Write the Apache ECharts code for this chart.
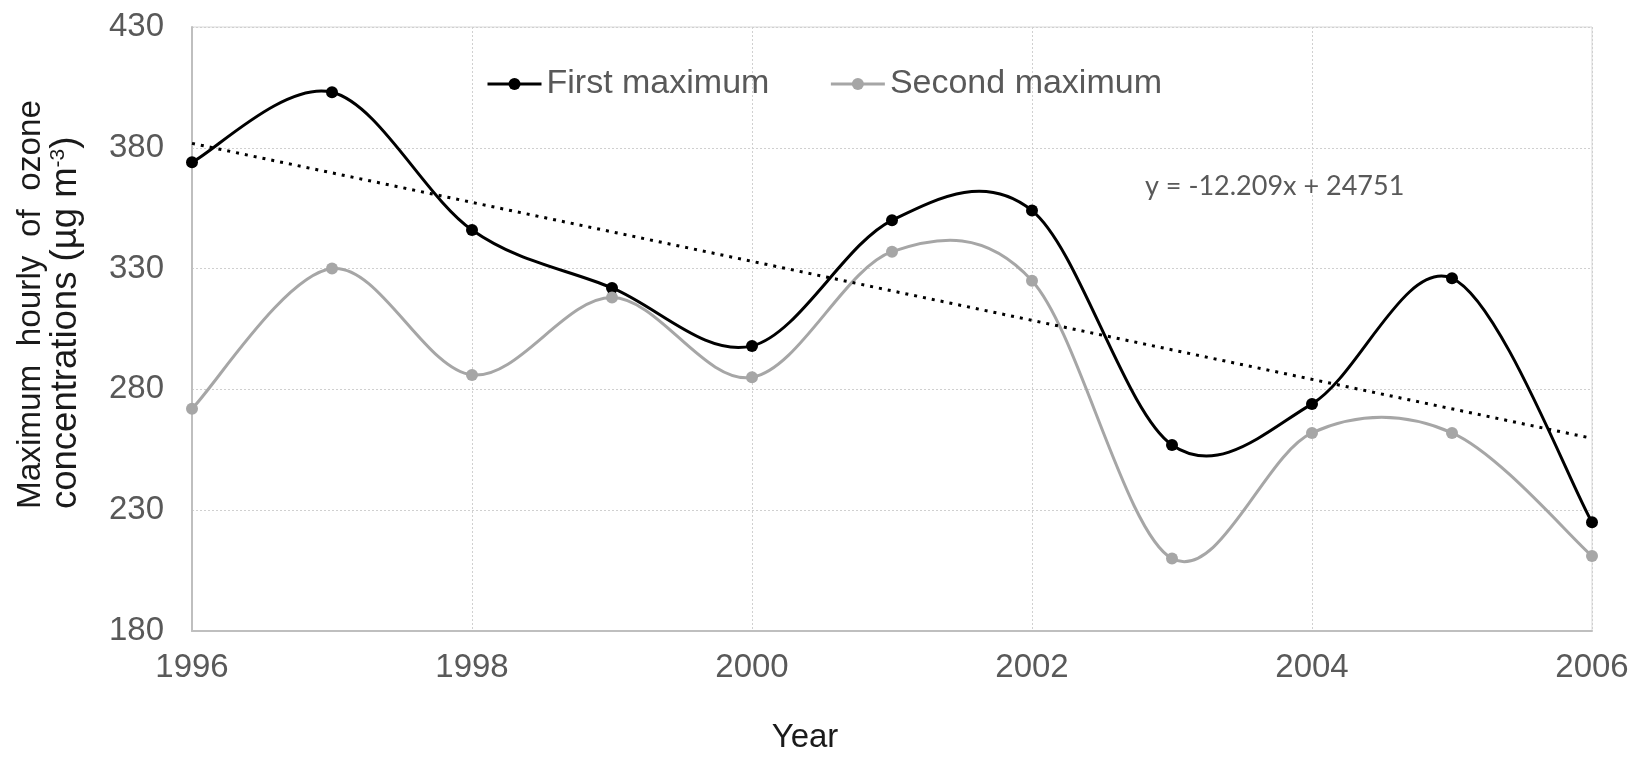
<!DOCTYPE html>
<html>
<head>
<meta charset="utf-8">
<title>Maximum hourly ozone concentrations 1996–2006</title>
<script src="https://cdn.jsdelivr.net/npm/echarts@6/dist/echarts.min.js"></script>
<style>
  html, body { margin: 0; padding: 0; background: #ffffff; }
  #chart { width: 1644px; height: 758px; }
</style>
</head>
<body>
<div id="chart"></div>
<script>
// Yearly maxima of hourly ozone concentration (µg m-3)
const years = [1996, 1997, 1998, 1999, 2000, 2001, 2002, 2003, 2004, 2005, 2006];
const firstMaximum = [374, 403, 346, 322, 298, 350, 354, 257, 274, 326, 225];
const secondMaximum = [272, 330, 286, 318, 285, 337, 325, 210, 262, 262, 211];

// Linear trend of the first maximum, as printed on the chart
const trendSlope = -12.209;
const trendIntercept = 24751;
const trendLabel = 'y = -12.209x + 24751';

// Axis ranges and labels
const xTicks = { min: 1996, max: 2006, step: 2 };
const yTicks = { min: 180, max: 430, step: 50 };
const seriesNames = ['First maximum', 'Second maximum'];
const xTitle = 'Year';
const yTitleLine1 = 'Maximum  hourly  of  ozone';
const yTitleLine2 = ['concentrations (µg m', '-3', ')'];

const toPairs = (vals) => vals.map((v, i) => [years[i], v]);
const trendEnds = [xTicks.min, xTicks.max].map((x) => [x, trendSlope * x + trendIntercept]);

// Smooth curve through the data points (cardinal spline, like a spreadsheet "smoothed line")
function splineRenderer(values, color) {
  return function (params, api) {
    if (params.dataIndex !== 0) return null;
    const pts = years.map((x, i) => api.coord([x, values[i]]));
    const n = pts.length;
    const children = [];
    for (let i = 0; i < n - 1; i++) {
      const p0 = pts[Math.max(i - 1, 0)];
      const p1 = pts[i];
      const p2 = pts[i + 1];
      const p3 = pts[Math.min(i + 2, n - 1)];
      children.push({
        type: 'bezierCurve',
        shape: {
          x1: p1[0], y1: p1[1],
          x2: p2[0], y2: p2[1],
          cpx1: p1[0] + (p2[0] - p0[0]) / 6, cpy1: p1[1] + (p2[1] - p0[1]) / 6,
          cpx2: p2[0] - (p3[0] - p1[0]) / 6, cpy2: p2[1] - (p3[1] - p1[1]) / 6
        },
        style: { stroke: color, lineWidth: 3, fill: null },
        silent: true
      });
    }
    return { type: 'group', children: children };
  };
}

const chart = echarts.init(document.getElementById('chart'), null, { renderer: 'canvas' });

const labelFont = 'Liberation Sans, Arial, sans-serif';

chart.setOption({
  animation: false,
  backgroundColor: '#ffffff',
  grid: {
    left: 192, right: 52, top: 27, bottom: 127,
    show: true, borderColor: '#d9d9d9', borderWidth: 1
  },
  legend: {
    left: 481, top: 62,
    itemWidth: 54, itemHeight: 15, itemGap: 60,
    textStyle: { fontSize: 34, color: '#595959', fontFamily: labelFont },
    data: [
      { name: seriesNames[0], lineStyle: { opacity: 1, width: 3 } },
      { name: seriesNames[1], lineStyle: { opacity: 1, width: 3 } }
    ]
  },
  xAxis: {
    type: 'value',
    min: xTicks.min, max: xTicks.max, interval: xTicks.step,
    axisLine: { show: true, lineStyle: { color: '#bfbfbf', width: 2 } },
    axisTick: { show: false },
    axisLabel: {
      margin: 20, fontSize: 33, color: '#595959', fontFamily: labelFont,
      formatter: (v) => String(v)
    },
    splitLine: { show: true, lineStyle: { color: '#d0d0d0', width: 1, type: [2, 2] } }
  },
  yAxis: {
    type: 'value',
    min: yTicks.min, max: yTicks.max, interval: yTicks.step,
    axisLine: { show: true, lineStyle: { color: '#bfbfbf', width: 2 } },
    axisTick: { show: false },
    axisLabel: {
      margin: 28, fontSize: 33, color: '#595959', fontFamily: labelFont,
      formatter: (v) => String(v)
    },
    splitLine: { show: true, lineStyle: { color: '#d0d0d0', width: 1, type: [2, 2] } }
  },
  series: [
    {
      name: seriesNames[0],
      type: 'line',
      data: toPairs(firstMaximum),
      symbol: 'circle', symbolSize: 12,
      itemStyle: { color: '#000000' },
      lineStyle: { color: '#000000', width: 3, opacity: 0 },
      z: 4
    },
    {
      name: seriesNames[1],
      type: 'line',
      data: toPairs(secondMaximum),
      symbol: 'circle', symbolSize: 12,
      itemStyle: { color: '#a6a6a6' },
      lineStyle: { color: '#a6a6a6', width: 3, opacity: 0 },
      z: 4
    },
    {
      name: seriesNames[0],
      type: 'custom',
      data: toPairs(firstMaximum),
      encode: { x: 0, y: 1 },
      renderItem: splineRenderer(firstMaximum, '#000000'),
      silent: true,
      z: 3
    },
    {
      name: seriesNames[1],
      type: 'custom',
      data: toPairs(secondMaximum),
      encode: { x: 0, y: 1 },
      renderItem: splineRenderer(secondMaximum, '#a6a6a6'),
      silent: true,
      z: 3
    },
    {
      name: 'Linear (First maximum)',
      type: 'line',
      data: trendEnds,
      symbol: 'none',
      lineStyle: { color: '#000000', width: 3, type: [3, 6] },
      silent: true,
      z: 5
    }
  ],
  graphic: [
    {
      type: 'text',
      x: 805, y: 738,
      style: {
        text: xTitle, fontSize: 33, fontFamily: labelFont, fill: '#1a1a1a',
        textAlign: 'center', textVerticalAlign: 'middle'
      }
    },
    {
      type: 'text',
      x: 1145, y: 186,
      style: {
        text: trendLabel, fontSize: 27, fontFamily: 'Lato, sans-serif', fill: '#595959',
        textAlign: 'left', textVerticalAlign: 'middle'
      }
    },
    {
      type: 'text',
      x: 31, y: 509,
      rotation: Math.PI / 2,
      style: {
        text: yTitleLine1, fontSize: 33.3, fontFamily: labelFont, fill: '#1a1a1a',
        textAlign: 'left', textVerticalAlign: 'middle'
      }
    },
    {
      type: 'text',
      x: 66, y: 509,
      rotation: Math.PI / 2,
      style: {
        text: '{a|' + yTitleLine2[0] + '}{s|' + yTitleLine2[1] + '}{a|' + yTitleLine2[2] + '}',
        textAlign: 'left', textVerticalAlign: 'middle',
        rich: {
          a: { fontSize: 36.5, fontFamily: labelFont, fill: '#1a1a1a', verticalAlign: 'bottom' },
          s: { fontSize: 21, fontFamily: labelFont, fill: '#1a1a1a', verticalAlign: 'top' }
        }
      }
    }
  ]
});
</script>
</body>
</html>
